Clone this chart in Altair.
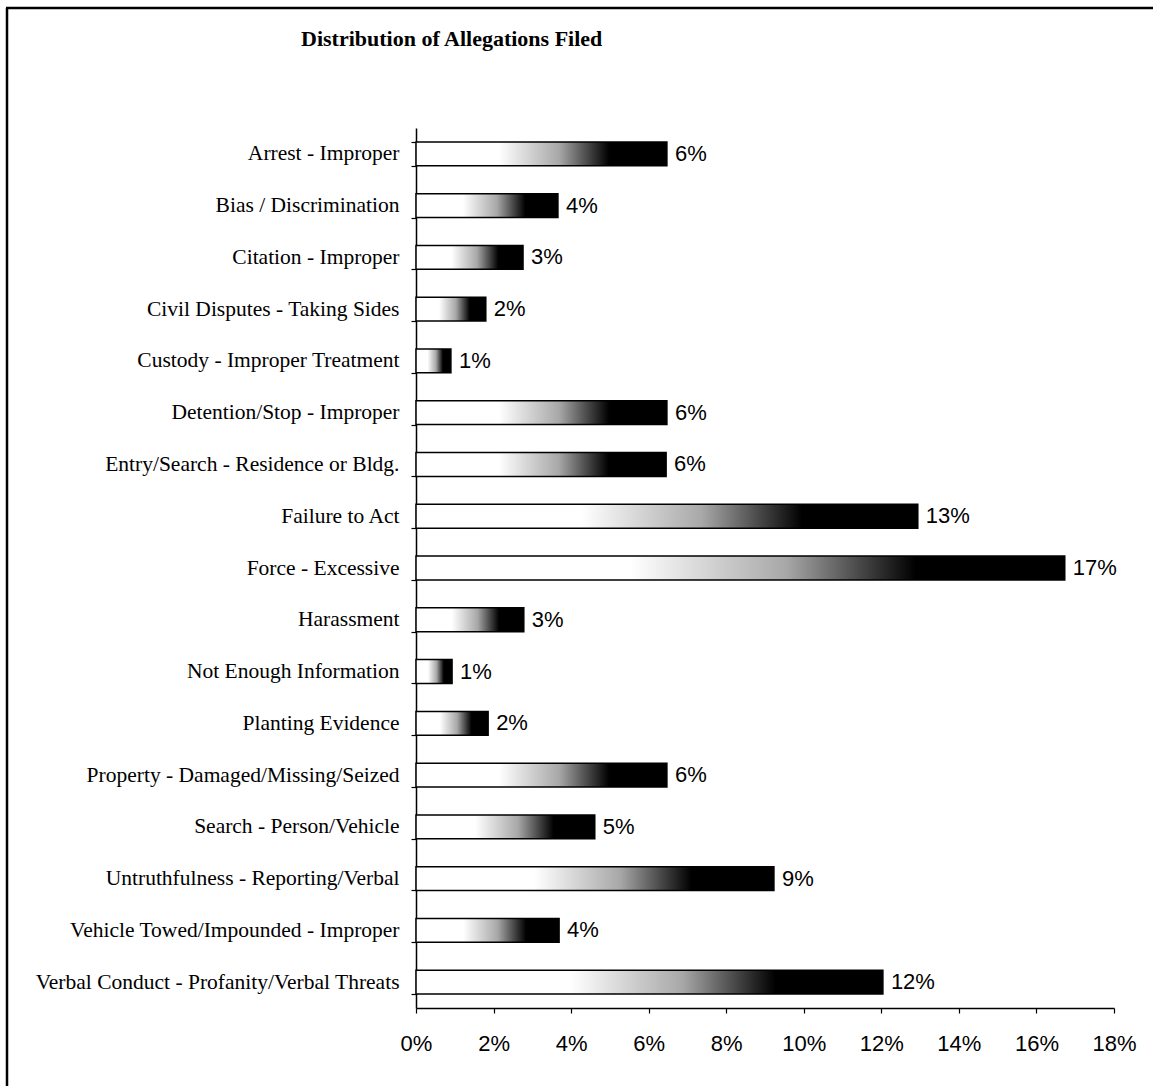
import altair as alt
import pandas as pd

title_text = "Distribution of Allegations Filed"
categories = [
    "Arrest - Improper",
    "Bias / Discrimination",
    "Citation - Improper",
    "Civil Disputes - Taking Sides",
    "Custody - Improper Treatment\u00a0\u00a0",
    "Detention/Stop - Improper",
    "Entry/Search - Residence or Bldg.",
    "Failure to Act",
    "Force - Excessive\u00a0",
    "Harassment",
    "Not Enough Information\u00a0",
    "Planting Evidence\u00a0",
    "Property - Damaged/Missing/Seized",
    "Search - Person/Vehicle\u00a0",
    "Untruthfulness - Reporting/Verbal",
    "Vehicle Towed/Impounded - Improper",
    "Verbal Conduct - Profanity/Verbal Threats",
]
values = [0.0647, 0.0366, 0.0276, 0.0180, 0.0090, 0.0647, 0.0645, 0.1294,
          0.1673, 0.0278, 0.0093, 0.0186, 0.0647, 0.0461, 0.0923, 0.0369, 0.1204]
x_ticks = [0, 0.02, 0.04, 0.06, 0.08, 0.10, 0.12, 0.14, 0.16, 0.18]

df = pd.DataFrame({"category": categories, "value": values})

y_enc = alt.Y(
    "category:N",
    sort=None,
    title=None,
    scale=alt.Scale(paddingInner=0.54, paddingOuter=0.27),
    axis=alt.Axis(
        tickBand="extent",
        labelFont="Liberation Serif",
        labelFontSize=21.5,
        labelColor="black",
        labelPadding=12,
        tickSize=5,
        tickColor="black",
        tickWidth=1.2,
        domainColor="black",
        domainWidth=1.5,
        labelLimit=600,
    ),
)
x_enc = alt.X(
    "value:Q",
    title=None,
    scale=alt.Scale(domain=[0, 0.18], nice=False),
    axis=alt.Axis(
        values=x_ticks,
        format=".0%",
        grid=False,
        labelFlush=False,
        labelFont="Liberation Sans",
        labelFontSize=22,
        labelColor="black",
        labelPadding=20,
        tickSize=5,
        tickColor="black",
        tickWidth=1.2,
        domainColor="black",
        domainWidth=1.5,
    ),
)

gradient = alt.LinearGradient(
    gradient="linear",
    stops=[
        alt.GradientStop(color="#ffffff", offset=0),
        alt.GradientStop(color="#ffffff", offset=0.33),
        alt.GradientStop(color="#a8a8a8", offset=0.57),
        alt.GradientStop(color="#000000", offset=0.77),
        alt.GradientStop(color="#000000", offset=1),
    ],
    x1=0, x2=1, y1=0, y2=0,
)

bars = alt.Chart(df).mark_bar(
    color=gradient, stroke="black", strokeWidth=1.5
).encode(x=x_enc, y=y_enc)

text = alt.Chart(df).mark_text(
    align="left", baseline="middle", dx=8, font="Liberation Sans",
    fontSize=22, color="black"
).encode(
    x=alt.X("value:Q"),
    y=alt.Y("category:N", sort=None),
    text=alt.Text("value:Q", format=".0%"),
)

single = pd.DataFrame({"t": [title_text]})
title_mark = alt.Chart(single).mark_text(
    align="left", baseline="alphabetic", font="Liberation Serif",
    fontSize=22, fontWeight="bold", color="black"
).encode(x=alt.value(-115), y=alt.value(-82), text="t:N")

frame_left = alt.Chart(single).mark_rule(color="black", strokeWidth=2.5).encode(
    x=alt.value(-409), y=alt.value(-120), y2=alt.value(960)
)
frame_top = alt.Chart(single).mark_rule(color="black", strokeWidth=2.5).encode(
    x=alt.value(-410), x2=alt.value(740), y=alt.value(-120)
)

chart = alt.layer(bars, text, title_mark, frame_left, frame_top).properties(
    width=698,
    height=880,
    padding={"left": 416, "top": 128, "right": 39, "bottom": 78},
    autosize=alt.AutoSizeParams(type="none"),
).configure(background="white").configure_view(stroke=None)

chart.save("out.html", embed_options={"renderer": "svg", "actions": False})
